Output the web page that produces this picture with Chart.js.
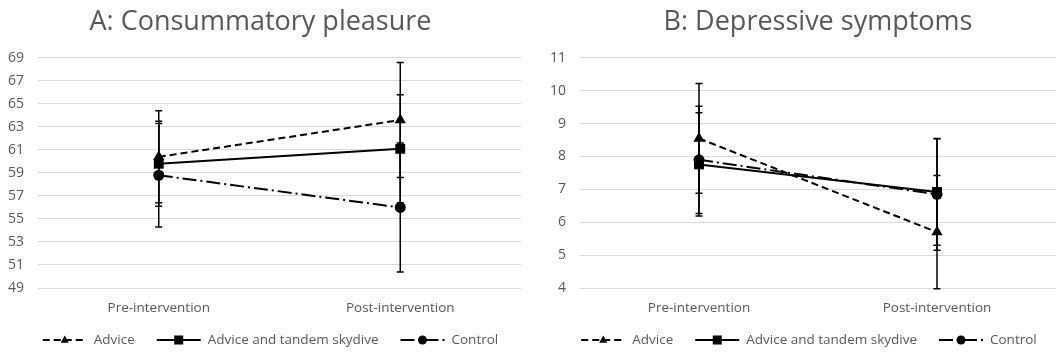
<!DOCTYPE html>
<html>
<head>
<meta charset="utf-8">
<script src="https://cdn.jsdelivr.net/npm/chart.js@4.4.0/dist/chart.umd.min.js"></script>
<style>
  body { margin: 0; background: #fff; }
  #wrap { position: relative; width: 1064px; height: 356px; }
  canvas { position: absolute; top: 0; }
</style>
</head>
<body>
<div id="wrap">
  <canvas id="chartA" width="530" height="356" style="left:0px"></canvas>
  <canvas id="chartB" width="534" height="356" style="left:530px"></canvas>
</div>
<script>
// Kategorije i serije
const categories = ['Pre-intervention', 'Post-intervention'];
const seriesNames = ['Advice', 'Advice and tandem skydive', 'Control'];

// A: Consummatory pleasure (srednje vrednosti i greske)
const pleasureAdvice = [60.4, 63.6];
const pleasureAdviceErr = [4.0, 5.0];
const pleasureSkydive = [59.8, 61.1];
const pleasureSkydiveErr = [3.7, 4.7];
const pleasureControl = [58.8, 56.0];
const pleasureControlErr = [4.5, 5.6];

// B: Depressive symptoms
const depressAdvice = [8.55, 5.7];
const depressAdviceErr = [1.67, 1.72];
const depressSkydive = [7.76, 6.92];
const depressSkydiveErr = [1.57, 1.62];
const depressControl = [7.9, 6.85];
const depressControlErr = [1.63, 1.7];

const gray = '#595959';
const font = 'Open Sans';

// stilovi serija
const seriesStyles = [
    { dash: [7, 4], point: 'triangle', radius: 6.5 },
    { dash: [], point: 'rect', radius: 7 },
    { dash: [14, 4, 2, 4], point: 'circle', radius: 5.5 }
];

// Error bars
const errorBarPlugin = {
    id: 'errorBarPlugin',
    beforeDatasetsDraw(chart) {
        const ctx = chart.ctx;
        const y = chart.scales.y;
        ctx.save();
        ctx.strokeStyle = '#000';
        ctx.lineWidth = 1.5;
        chart.data.datasets.forEach((ds, i) => {
            const meta = chart.getDatasetMeta(i);
            meta.data.forEach((pt, j) => {
                const top = y.getPixelForValue(ds.data[j] + ds.errorBars[j]);
                const bot = y.getPixelForValue(ds.data[j] - ds.errorBars[j]);
                ctx.beginPath();
                ctx.moveTo(pt.x, top);
                ctx.lineTo(pt.x, bot);
                ctx.moveTo(pt.x - 3.5, top);
                ctx.lineTo(pt.x + 3.5, top);
                ctx.moveTo(pt.x - 3.5, bot);
                ctx.lineTo(pt.x + 3.5, bot);
                ctx.stroke();
            });
        });
        ctx.restore();
    }
};

function drawMarker(ctx, type, x, y, r) {
    ctx.beginPath();
    if (type === 'triangle') {
        ctx.moveTo(x, y - r);
        ctx.lineTo(x + r * 0.9, y + r * 0.6);
        ctx.lineTo(x - r * 0.9, y + r * 0.6);
        ctx.closePath();
    } else if (type === 'rect') {
        ctx.rect(x - r, y - r, 2 * r, 2 * r);
    } else {
        ctx.arc(x, y, r, 0, Math.PI * 2);
    }
    ctx.fill();
}

// Legenda ispod grafika (linija + marker)
const lineLegendPlugin = {
    id: 'lineLegendPlugin',
    afterDraw(chart) {
        const ctx = chart.ctx;
        const area = chart.chartArea;
        const symW = 44, gapText = 7, gapItem = 22;
        ctx.save();
        ctx.font = '13.5px "' + font + '"';
        const widths = chart.data.datasets.map(ds => ctx.measureText(ds.label).width);
        let total = 0;
        widths.forEach(w => { total += symW + gapText + w; });
        total += gapItem * (widths.length - 1);
        let x = (area.left + area.right) / 2 - 9 - total / 2;
        const y = 340;
        chart.data.datasets.forEach((ds, i) => {
            const st = seriesStyles[i];
            ctx.strokeStyle = '#000';
            ctx.fillStyle = '#000';
            ctx.lineWidth = 2;
            ctx.setLineDash(st.dash);
            ctx.beginPath();
            ctx.moveTo(x, y);
            ctx.lineTo(x + symW, y);
            ctx.stroke();
            ctx.setLineDash([]);
            drawMarker(ctx, st.point, x + symW / 2, y, 4.5);
            ctx.fillStyle = gray;
            ctx.textBaseline = 'middle';
            ctx.fillText(ds.label, x + symW + gapText, y);
            x += symW + gapText + widths[i] + gapItem;
        });
        ctx.restore();
    }
};

function makeDatasets(values, errors) {
    return values.map((vals, i) => ({
        label: seriesNames[i],
        data: vals,
        errorBars: errors[i],
        borderColor: '#000',
        backgroundColor: '#000',
        borderWidth: 2,
        borderDash: seriesStyles[i].dash,
        pointStyle: seriesStyles[i].point,
        pointRadius: seriesStyles[i].radius,
        pointBackgroundColor: '#000',
        pointBorderColor: '#000',
        pointBorderWidth: 0,
        tension: 0
    }));
}

function renderChart(id, title, values, errors, yMin, yMax, step, yWidth, padRight, titleFull) {
    const ctx = document.getElementById(id).getContext('2d');
    return new Chart(ctx, {
        type: 'line',
        data: {
            labels: categories,
            datasets: makeDatasets(values, errors)
        },
        plugins: [errorBarPlugin, lineLegendPlugin],
        options: {
            responsive: false,
            animation: false,
            devicePixelRatio: 1,
            layout: { padding: { left: 0, right: padRight, top: 0, bottom: 0 } },
            plugins: {
                legend: { display: false },
                tooltip: { enabled: false },
                title: {
                    display: true,
                    text: title,
                    fullSize: titleFull,
                    color: gray,
                    font: { family: font, size: 27, weight: 'normal' },
                    padding: { top: 6, bottom: 19.5 }
                }
            },
            scales: {
                x: {
                    offset: true,
                    grid: { display: false, drawTicks: false },
                    border: { display: false },
                    ticks: { color: gray, font: { family: font, size: 13.5 }, padding: 12 },
                    afterFit: s => { s.height = 68; }
                },
                y: {
                    min: yMin,
                    max: yMax,
                    grid: { color: '#d9d9d9', lineWidth: 1, drawTicks: false },
                    border: { display: false },
                    ticks: { stepSize: step, color: gray, font: { family: font, size: 14 }, padding: 14 },
                    afterFit: s => { s.width = yWidth; }
                }
            }
        }
    });
}

renderChart('chartA', 'A: Consummatory pleasure',
    [pleasureAdvice, pleasureSkydive, pleasureControl],
    [pleasureAdviceErr, pleasureSkydiveErr, pleasureControlErr],
    49, 69, 2, 38, 9, true);

renderChart('chartB', 'B: Depressive symptoms',
    [depressAdvice, depressSkydive, depressControl],
    [depressAdviceErr, depressSkydiveErr, depressControlErr],
    4, 11, 1, 50, 8, false);
</script>
</body>
</html>
